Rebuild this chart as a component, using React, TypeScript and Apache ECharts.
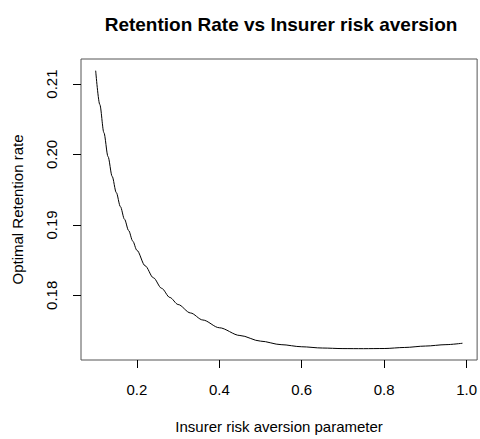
import React, { useEffect, useRef } from "react";
import * as echarts from "echarts";

const titleText = "Retention Rate vs Insurer risk aversion";
const xAxisName = "Insurer risk aversion parameter";
const yAxisName = "Optimal Retention rate";

const riskAversion = [
  0.10, 0.11, 0.12, 0.13, 0.14, 0.15, 0.16, 0.17, 0.18, 0.19, 0.20, 0.22, 0.24,
  0.26, 0.28, 0.30, 0.33, 0.36, 0.40, 0.45, 0.50, 0.55, 0.60, 0.65, 0.70, 0.75,
  0.80, 0.85, 0.90, 0.95, 0.99,
];
const retentionRate = [
  0.2119, 0.2071, 0.2031, 0.1997, 0.1969, 0.1946, 0.1926, 0.1908, 0.1892,
  0.1877, 0.1864, 0.1842, 0.1825, 0.1810, 0.1797, 0.1787, 0.1775, 0.1765,
  0.1754, 0.1743, 0.1735, 0.1730, 0.1727, 0.17252, 0.17244, 0.17243, 0.17245,
  0.1726, 0.1728, 0.1730, 0.1732,
];
const xTicks = [0.2, 0.4, 0.6, 0.8, 1.0];
const yTicks = [0.18, 0.19, 0.2, 0.21];

const FONT = "'Liberation Sans', Arial, sans-serif";

export default function App() {
  const ref = useRef<HTMLDivElement>(null);
  useEffect(() => {
    if (!ref.current) return;
    const chart = echarts.init(ref.current, undefined, { renderer: "svg" });
    const data = riskAversion.map((x, i) => [x, retentionRate[i]]);
    chart.setOption({
      animation: false,
      backgroundColor: "#ffffff",
      title: {
        text: titleText,
        left: 276,
        top: 10,
        textAlign: "center",
        textStyle: {
          fontFamily: FONT,
          fontSize: 19,
          fontWeight: "bold",
          color: "#000",
        },
      },
      grid: {
        left: 81,
        right: 1,
        top: 59,
        bottom: 77,
        show: true,
        borderColor: "#555",
        borderWidth: 1,
        backgroundColor: "transparent",
      },
      xAxis: {
        type: "value",
        min: 0.0644,
        max: 1.0256,
        name: xAxisName,
        nameLocation: "middle",
        nameGap: 59,
        nameTextStyle: { fontFamily: FONT, fontSize: 15, color: "#000" },
        axisLine: { show: false },
        splitLine: { show: false },
        axisTick: {
          show: true,
          length: 8,
          inside: false,
          customValues: xTicks,
          lineStyle: { color: "#000", width: 1 },
        },
        axisLabel: {
          customValues: xTicks,
          formatter: (v: number) => v.toFixed(1),
          margin: 22,
          fontFamily: FONT,
          fontSize: 15,
          color: "#000",
        },
      },
      yAxis: {
        type: "value",
        min: 0.17082,
        max: 0.21356,
        name: yAxisName,
        nameLocation: "middle",
        nameGap: 56,
        nameTextStyle: { fontFamily: FONT, fontSize: 15, color: "#000" },
        axisLine: { show: false },
        splitLine: { show: false },
        axisTick: {
          show: true,
          length: 8,
          inside: false,
          customValues: yTicks,
          lineStyle: { color: "#000", width: 1 },
        },
        axisLabel: {
          customValues: yTicks,
          formatter: (v: number) => v.toFixed(2),
          rotate: 90,
          margin: 22,
          fontFamily: FONT,
          fontSize: 15,
          color: "#000",
        },
      },
      series: [
        {
          type: "line",
          data,
          showSymbol: false,
          smooth: 0.3,
          smoothMonotone: "x",
          lineStyle: { color: "#000", width: 1 },
          silent: true,
        },
      ],
    });
    return () => chart.dispose();
  }, []);
  return (
    <div
      ref={ref}
      style={{ position: "fixed", left: 0, top: 0, width: 480, height: 439 }}
    />
  );
}
